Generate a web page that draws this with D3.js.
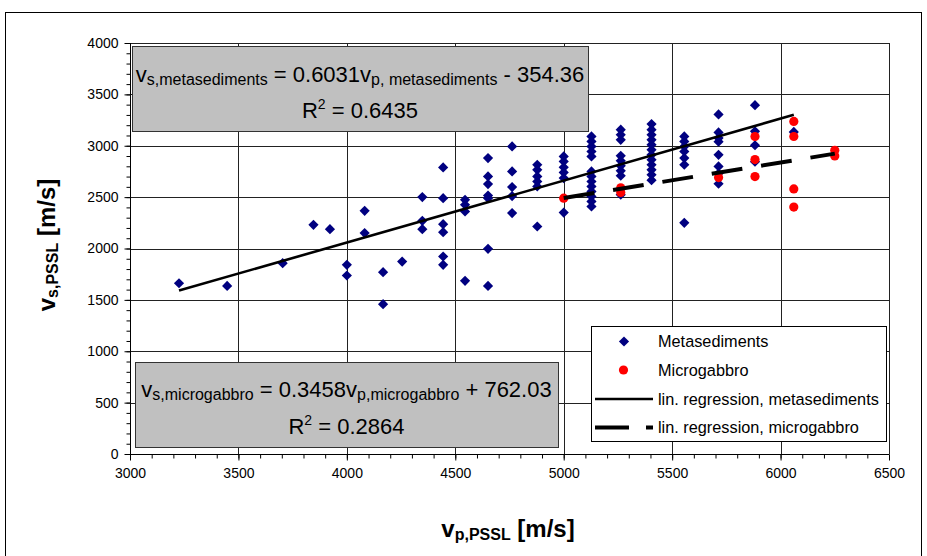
<!DOCTYPE html>
<html><head><meta charset="utf-8">
<script src="https://cdn.jsdelivr.net/npm/d3@7"></script>
<style>html,body{margin:0;padding:0;background:#fff;}svg{display:block;font-family:"Liberation Sans",Arial,sans-serif;}</style>
</head><body>
<svg id="chart" width="927" height="556"></svg>
<script>
// ---- data ----
const metaVp = [3226,3448,3704,3846,3922,4000,4000,4082,4082,4167,4167,4255,
  4348,4348,4348,4444,4444,4444,4444,4444,4444,4545,4545,4545,4545,
  4651,4651,4651,4651,4651,4651,4651,4762,4762,4762,4762,4762,
  4878,4878,4878,4878,4878,4878,5000,5000,5000,5000,5000,5000,
  5128,5128,5128,5128,5128,5128,5128,5128,5128,5128,5128,5128,5128,
  5263,5263,5263,5263,5263,5263,5263,5263,5263,
  5405,5405,5405,5405,5405,5405,5405,5405,5405,5405,5405,5405,
  5556,5556,5556,5556,5556,5556,5556,
  5714,5714,5714,5714,5714,5714,5714,5714,
  5882,5882,5882,5882,6061];
const metaVs = [1662,1636,1857,2230,2188,1841,1737,2367,2150,1770,1458,1873,
  2500,2269,2188,2789,2490,2237,2159,1922,1841,2474,2425,2360,1685,
  2880,2701,2627,2516,2490,1997,1636,2993,2750,2598,2510,2345,
  2815,2766,2701,2652,2604,2214,2896,2847,2790,2740,2685,2350,
  3091,3042,2993,2944,2896,2750,2701,2652,2604,2555,2506,2458,2409,
  3156,3107,3058,2902,2854,2805,2756,2708,2523,
  3211,3156,3107,3058,3010,2961,2912,2864,2815,2766,2718,2665,
  3091,3042,2993,2944,2880,2815,2250,
  3305,3130,3075,3040,2912,2799,2730,2630,
  3395,3140,3005,2845,3135];
const gabVp = [5000,5263,5263,5714,5882,5882,5882,6061,6061,6061,6061,6250,6250];
const gabVs = [2490,2590,2545,2690,3090,2865,2700,3237,3090,2580,2403,2955,2900];
const metaFit = [0.6031, -354.36];
const gabFit = [0.3458, 762.03];
const xTicks = [3000,3500,4000,4500,5000,5500,6000,6500];
const yTicks = [0,500,1000,1500,2000,2500,3000,3500,4000];
const legendLabels = ["Metasediments","Microgabbro","lin. regression, metasediments","lin. regression, microgabbro"];

const svg = d3.select("#chart");
const x = d3.scaleLinear().domain([3000,6500]).range([130,889]);
const y = d3.scaleLinear().domain([0,4000]).range([454,43]);
const cr = v => Math.round(v)+0.5;

// outer frame
svg.append("rect").attr("x",5.5).attr("y",12.5).attr("width",916).attr("height",600)
  .attr("fill","none").attr("stroke","#000").attr("stroke-width",1);

// gridlines
const g = svg.append("g");
g.selectAll(".vg").data(xTicks).enter().append("line")
  .attr("x1",d=>cr(x(d))).attr("x2",d=>cr(x(d))).attr("y1",y(4000)).attr("y2",y(0))
  .attr("stroke","#222").attr("stroke-width",1);
g.selectAll(".hg").data(yTicks).enter().append("line")
  .attr("y1",d=>cr(y(d))).attr("y2",d=>cr(y(d))).attr("x1",x(3000)).attr("x2",x(6500))
  .attr("stroke","#222").attr("stroke-width",1);

// axes
const minorX = d3.range(3000,6501,100), minorY = d3.range(0,4001,100);
const ax = svg.append("g").attr("transform",`translate(0,${cr(y(0))})`);
ax.call(d3.axisBottom(x).tickValues(minorX).tickSize(4).tickFormat(""));
const ax2 = svg.append("g").attr("transform",`translate(0,${cr(y(0))})`);
ax2.call(d3.axisBottom(x).tickValues(xTicks).tickSize(6).tickPadding(8).tickFormat(d3.format("d")));
const ay = svg.append("g").attr("transform",`translate(${cr(x(3000))},0)`);
ay.call(d3.axisLeft(y).tickValues(minorY).tickSize(4).tickFormat(""));
const ay2 = svg.append("g").attr("transform",`translate(${cr(x(3000))},0)`);
ay2.call(d3.axisLeft(y).tickValues(yTicks).tickSize(6).tickPadding(6).tickFormat(d3.format("d")));
[ax,ax2,ay,ay2].forEach(a=>{a.selectAll(".tick line").attr("stroke","#000");
  a.selectAll("text").attr("font-family","Liberation Sans, Arial, sans-serif").attr("font-size",14).attr("fill","#000");});
ax.select(".domain").remove(); ay.select(".domain").remove();
ax2.select(".domain").attr("stroke","#000").attr("d",`M${x(3000)},0H${x(6500)}`);
ay2.select(".domain").attr("stroke","#000").attr("d",`M0,${y(0)}V${y(4000)}`);

// equation boxes
function eqBox(bx,by,bw,bh,base1,base2,parts,r2){
  svg.append("rect").attr("x",bx+0.5).attr("y",by+0.5).attr("width",bw).attr("height",bh)
    .attr("fill","#c0c0c0").attr("stroke","#333").attr("stroke-width",1);
  const cx = bx+bw/2;
  const t = svg.append("text").attr("x",cx).attr("y",base1).attr("text-anchor","middle").attr("font-size",22).attr("fill","#000");
  parts.forEach(p=>{
    const ts = t.append("tspan").text(p.t);
    if(p.sub){ ts.attr("font-size",16).attr("dy",3); }
    else if(p.after){ ts.attr("dy",-3); }
  });
  const t2 = svg.append("text").attr("x",cx).attr("y",base2).attr("text-anchor","middle").attr("font-size",22).attr("fill","#000");
  t2.append("tspan").text("R");
  t2.append("tspan").text("2").attr("font-size",14).attr("dy",-9);
  t2.append("tspan").text(" = "+r2).attr("dy",9);
}
eqBox(132,46,456,85,82,118,[
  {t:"v"},{t:"s,metasediments",sub:true},{t:" = 0.6031v",after:true},
  {t:"p, metasediments",sub:true},{t:" - 354.36",after:true}],"0.6435");
eqBox(135,362,423,85,397,434,[
  {t:"v"},{t:"s,microgabbro",sub:true},{t:" = 0.3458v",after:true},
  {t:"p,microgabbro",sub:true},{t:" + 762.03",after:true}],"0.2864");

// points
const diamond = d3.symbol(d3.symbolSquare, 52);
svg.append("g").selectAll("path").data(metaVp.map((v,i)=>[v,metaVs[i]])).enter().append("path")
  .attr("d",diamond).attr("fill","#000080")
  .attr("transform",d=>`translate(${x(d[0])},${y(d[1])}) rotate(45)`);
svg.append("g").selectAll("circle").data(gabVp.map((v,i)=>[v,gabVs[i]])).enter().append("circle")
  .attr("cx",d=>x(d[0])).attr("cy",d=>y(d[1])).attr("r",4.6).attr("fill","#ff0000");

// regression lines
const mx = d3.extent(metaVp), gx = d3.extent(gabVp);
svg.append("line").attr("x1",x(mx[0])).attr("y1",y(metaFit[0]*mx[0]+metaFit[1]))
  .attr("x2",x(mx[1])).attr("y2",y(metaFit[0]*mx[1]+metaFit[1]))
  .attr("stroke","#000").attr("stroke-width",2.6);
svg.append("line").attr("x1",x(gx[0])).attr("y1",y(gabFit[0]*gx[0]+gabFit[1]))
  .attr("x2",x(gx[1])).attr("y2",y(gabFit[0]*gx[1]+gabFit[1]))
  .attr("stroke","#000").attr("stroke-width",4).attr("stroke-dasharray","31,19");

// legend
const L = svg.append("g");
L.append("rect").attr("x",591.5).attr("y",326.5).attr("width",295).attr("height",115)
  .attr("fill","#fff").attr("stroke","#000").attr("stroke-width",1);
const rowsY = [341.5,370,399,427.5];
L.append("path").attr("d",diamond).attr("fill","#000080").attr("transform",`translate(624,${rowsY[0]}) rotate(45)`);
L.append("circle").attr("cx",623.5).attr("cy",rowsY[1]).attr("r",4.6).attr("fill","#ff0000");
L.append("line").attr("x1",595).attr("x2",653).attr("y1",rowsY[2]).attr("y2",rowsY[2]).attr("stroke","#000").attr("stroke-width",2.6);
L.append("line").attr("x1",595).attr("x2",653).attr("y1",rowsY[3]).attr("y2",rowsY[3]).attr("stroke","#000").attr("stroke-width",4).attr("stroke-dasharray","34,17");
L.selectAll("text.lg").data(legendLabels).enter().append("text")
  .attr("x",658).attr("y",(d,i)=>rowsY[i]+5.5).attr("font-size",16.3).attr("fill","#000").text(d=>d);

// axis titles
const xt = svg.append("text").attr("x",508).attr("y",537).attr("text-anchor","middle")
  .attr("font-weight","bold").attr("font-size",24).attr("fill","#000");
xt.append("tspan").text("v");
xt.append("tspan").text("p,PSSL").attr("font-size",16).attr("dy",3);
xt.append("tspan").text(" [m/s]").attr("dy",-3);
const yt = svg.append("text").attr("transform","translate(55,245) rotate(-90)").attr("text-anchor","middle")
  .attr("font-weight","bold").attr("font-size",24).attr("fill","#000");
yt.append("tspan").text("v");
yt.append("tspan").text("s,PSSL").attr("font-size",16).attr("dy",3);
yt.append("tspan").text(" [m/s]").attr("dy",-3);
</script>
</body></html>
